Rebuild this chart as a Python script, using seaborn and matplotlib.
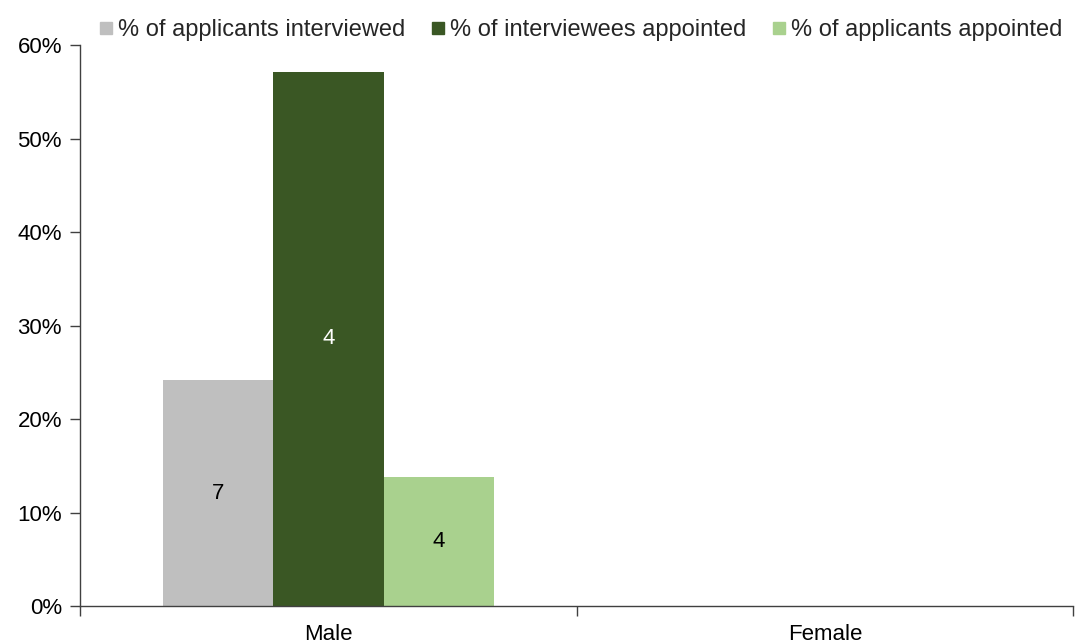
import matplotlib
matplotlib.use("Agg")
import matplotlib.pyplot as plt
import seaborn as sns
import pandas as pd
import numpy as np
from matplotlib.lines import Line2D

categories = ["Male", "Female"]
series = ["% of applicants interviewed", "% of interviewees appointed", "% of applicants appointed"]
male_values = [24.14, 57.14, 13.79]
female_values = [np.nan, np.nan, np.nan]
male_counts = ["7", "4", "4"]
colors = ["#BFBFBF", "#3A5724", "#A9D18E"]
label_colors = ["black", "white", "black"]
yticks = [0, 10, 20, 30, 40, 50, 60]

rows = []
for s, m, f in zip(series, male_values, female_values):
    rows.append({"cat": "Male", "series": s, "val": m})
    rows.append({"cat": "Female", "series": s, "val": f})
df = pd.DataFrame(rows)

sns.set_theme(style="white")
plt.rcParams["font.family"] = ["Liberation Sans", "DejaVu Sans"]

FS = 16
fig = plt.figure(figsize=(10.75, 6.43), dpi=100)
ax = fig.add_axes([0.0744, 0.0575, 0.924, 0.8725])

sns.barplot(data=df, x="cat", y="val", hue="series", order=categories, hue_order=series,
            palette=colors, width=0.667, saturation=1, ax=ax, legend=False, errorbar=None)

for c in ax.containers:
    for p in c:
        p.set_edgecolor("none")

for i, cont in enumerate(ax.containers):
    p = cont[0]
    h = p.get_height()
    if not np.isnan(h):
        ax.text(p.get_x() + p.get_width() / 2, h / 2, male_counts[i], ha="center", va="center",
                fontsize=FS, color=label_colors[i])

ax.set_ylim(0, 60)
ax.set_xlim(-0.5, 1.5)
ax.set_yticks(yticks)
ax.set_yticklabels([f"{t}%" for t in yticks], fontsize=FS, color="black")
ax.set_xticks([0, 1])
ax.set_xticklabels(categories, fontsize=FS, color="black")
ax.tick_params(axis="x", which="major", length=0, pad=13)
ax.set_xticks([-0.5, 0.5, 1.5], minor=True)
ax.tick_params(axis="x", which="minor", length=7, color="#404040", width=1, direction="out", bottom=True)
ax.tick_params(axis="y", length=7, color="#404040", width=1, direction="out", left=True, pad=6)
ax.set_xlabel("")
ax.set_ylabel("")
for s in ["top", "right"]:
    ax.spines[s].set_visible(False)
for s in ["left", "bottom"]:
    ax.spines[s].set_color("#404040")
    ax.spines[s].set_linewidth(1)

handles = [Line2D([], [], marker="s", linestyle="none", markersize=8.5, markerfacecolor=c,
                  markeredgecolor=c) for c in colors]
fig.legend(handles, series, loc="upper right", bbox_to_anchor=(1.008, 1.003), ncol=3, frameon=False,
           fontsize=17, handletextpad=0.0, columnspacing=0.9, handlelength=1.0)

fig.savefig("out.png", dpi=100)
